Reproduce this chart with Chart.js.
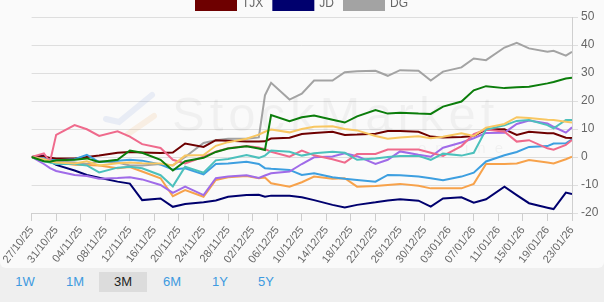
<!DOCTYPE html>
<html>
<head>
<meta charset="utf-8">
<script src="https://cdn.jsdelivr.net/npm/chart.js@4.4.1/dist/chart.umd.min.js"></script>
<style>
  html, body { margin: 0; padding: 0; background: #efefef; }
  body { width: 604px; height: 302px; overflow: hidden; position: relative; font-family: "Liberation Sans", Arial, sans-serif; }
  #panel { position: absolute; left: 0; top: 0; width: 604px; height: 268px; background: #fafafa; border-radius: 0 0 6px 6px; overflow: hidden; }
  #wrap { position: absolute; left: 0; top: -12px; width: 604px; height: 277px; }
  .rng { position: absolute; top: 272px; height: 20px; line-height: 20px; width: 48px; text-align: center; font-size: 13px; color: #3d9ae0; }
  .rng.active { background: #dcdcdc; color: #222; }
</style>
</head>
<body>
<div id="panel">
  <div id="wrap"><canvas id="perfChart"></canvas></div>
</div>
<div class="rng" style="left:1px">1W</div>
<div class="rng" style="left:51px">1M</div>
<div class="rng active" style="left:99px">3M</div>
<div class="rng" style="left:148px">6M</div>
<div class="rng" style="left:196px">1Y</div>
<div class="rng" style="left:242px">5Y</div>

<script>
// trading days shown (sampled), % change since 27/10/25
const tradeDates = ['2025-10-27','2025-10-29','2025-10-30','2025-10-31','2025-11-03','2025-11-05','2025-11-07',
  '2025-11-10','2025-11-12','2025-11-14','2025-11-17','2025-11-19','2025-11-21','2025-11-24','2025-11-26','2025-11-28',
  '2025-12-01','2025-12-03','2025-12-04','2025-12-05','2025-12-08','2025-12-10','2025-12-12','2025-12-15','2025-12-17',
  '2025-12-19','2025-12-22','2025-12-24','2025-12-26','2025-12-29','2025-12-31','2026-01-02','2026-01-05','2026-01-07',
  '2026-01-09','2026-01-12','2026-01-14','2026-01-16','2026-01-19','2026-01-20','2026-01-22','2026-01-23'];

const wmt  = [0, -1.5, -1.7, -1.2, -1, -0.5, -1.8, -1, 2.3, 1.5, -1, -4.8, -1.5, -0.3, 1.8, 3.0, 3.8, 3.0, 2.5, 15, 12.8, 14.2, 14.8, 13.3, 12.3, 14.5, 16.8, 15.5, 15.8, 15.5, 15.4, 18, 19.8, 23.8, 25.3, 24.6, 24.9, 25.1, 26.3, 26.8, 28, 28.3];
const cost = [0, -0.8, -1.5, -2, -2.3, -1.5, -3, -2.2, -2, -2.2, -2.3, -3.0, 0.5, 0.7, 4.0, 5.3, 6.5, 8.0, 9.0, 9.8, 8.8, 10.0, 10.8, 11.0, 10.0, 9.5, 7.5, 6.5, 7.0, 7.4, 6.7, 7.2, 8.5, 7.5, 10.5, 11.8, 14.2, 13.9, 13.3, 13.2, 12.6, 12.3];
const tgt  = [0, -1.5, -2, -2.5, -2.5, -3.0, -5.5, -3.8, -3.5, -4, -6.5, -10.5, -3.5, -5.6, -1.2, -0.7, 0.7, -0.3, 0.5, 2.3, 1.9, 0.5, 1.3, 1.9, 1.5, -1.0, -0.5, 0, 0.4, 0.4, -1.0, 1.2, 0.5, 1.5, 9.8, 11.3, 12.9, 13.2, 11.4, 10.2, 13.2, 13.2];
const rost = [0, 1.3, -1.7, 7.9, 11.4, 9.9, 7.5, 9.2, 7.3, 4.6, 3.2, -1, -2.3, 0.1, 1.9, 3.1, 3.9, 3.4, 2.8, 1.9, 0.1, 2.3, 0.6, -0.8, -2, 1.1, 1.1, 2.7, 2.7, 2.7, 1.5, 0.4, 3.9, 8.2, 9.8, 9.0, 5.5, 6.0, 3.1, 2.6, 4.3, 6.1];
const hd   = [0, -2.5, -4.0, -5.0, -6.4, -6.8, -7.8, -7.5, -7.2, -8.0, -10, -12.8, -10.6, -13.6, -7.6, -7.0, -6.5, -7.5, -6.6, -5.8, -5.2, -2.5, -0.1, 0.2, 1.3, 0.3, -2.5, -1.0, 2.0, 0.8, 0.1, 3.3, 5.2, 6.7, 8.6, 8.7, 11.8, 13.0, 12.0, 10.8, 8.7, 10.6];
const low  = [0, -0.5, -1.0, -1.2, -0.8, 0.8, -1.8, -1.3, -1.0, -1.3, -2.7, -4.5, -4.0, -6.2, -2.5, -2.3, -1.7, -2.5, -4.0, -4.2, -4.6, -6.4, -5.8, -7.2, -7.8, -8.2, -8.8, -6.4, -6.5, -7.0, -7.6, -8.3, -7.0, -5.6, -1.6, 0.6, 1.8, 3.6, 3.9, 4.8, 4.9, 6.3];
const kr   = [0, -1.0, -1.8, -2.0, -2.8, -2.9, -3.0, -4.0, -3.6, -5.2, -7.6, -14, -11.8, -14.2, -8.2, -7.2, -6.8, -7.6, -7.3, -9.4, -10.6, -9.0, -7.0, -7.8, -7.6, -10.6, -10.4, -10.0, -9.6, -10.3, -11.2, -11.2, -11.2, -9.6, -2.5, -2.5, -2.3, -1.1, -2.0, -2.3, -0.8, 0.1];
const tjx  = [0, 0.3, -0.3, -0.5, -0.5, 0, 0.5, 1.5, 1.8, 1.6, 1.4, 1.6, 4.8, 3.6, 6.0, 5.8, 5.5, 5.5, 5.6, 6.6, 6.9, 8.2, 8.6, 9.0, 7.9, 8.0, 8.3, 9.3, 9.3, 9.0, 7.3, 7.0, 7.1, 7.5, 9.8, 9.9, 7.9, 9.0, 8.5, 8.5, 6.9, 6.8];
const jd   = [0, 0.5, -1.5, -2.8, -4.8, -6.4, -7.4, -8.8, -9.5, -15.4, -14.8, -17.8, -16.8, -16.2, -15.5, -14.2, -13.6, -13.5, -14.2, -13.8, -13.8, -14.4, -15.4, -17.1, -18.0, -17.1, -16.2, -15.5, -15.1, -15.6, -17.7, -14.8, -14.4, -16.3, -15.1, -10.6, -13.6, -16.5, -18.1, -18.6, -12.7, -13.2];
const dg   = [0, -1, -1.2, -1.5, -2, -2.5, -1.5, -2, -3, -3, -2.5, -3, 0, 5, 6, 6.5, 6.5, 7, 22, 26.5, 20.5, 22.6, 27.3, 27.3, 30.3, 30.6, 30.8, 29, 31, 30.8, 27.3, 30.5, 32, 35.2, 34.6, 39.1, 40.8, 38.8, 37.6, 37.9, 36.2, 37.6];

const seriesNames  = ['WMT', 'COST', 'TGT', 'ROST', 'HD', 'LOW', 'KR', 'TJX', 'JD', 'DG'];
const seriesValues = [wmt, cost, tgt, rost, hd, low, kr, tjx, jd, dg];
const seriesColors = ['#0b7d0b', '#f8c762', '#4cc0bc', '#ef6a8c', '#a06be8', '#3d9fe0', '#f7a24b', '#6e0000', '#00006e', '#a3a3a3'];
// only the last legend row is in view
const legendShown = ['TJX', 'JD', 'DG'];

const yTicks = { min: -20, max: 50, step: 10 };
const tickEveryDays = 4;
const WRAP_TOP = 12;

const startMs = Date.UTC(2025, 9, 27);
function dayOf(s) {
  return Math.round((Date.parse(s + 'T00:00:00Z') - startMs) / 86400000);
}
function pad(n) { return (n < 10 ? '0' : '') + n; }
function fmtDay(v) {
  const d = new Date(startMs + v * 86400000);
  return pad(d.getUTCDate()) + '/' + pad(d.getUTCMonth() + 1) + '/' + String(d.getUTCFullYear()).slice(2);
}
const lastDay = dayOf(tradeDates[tradeDates.length - 1]);

// legend sits a little closer to the plot than Chart.js puts it
const tightLegend = {
  id: 'tightLegend',
  beforeLayout(chart) {
    const lg = chart.legend;
    if (lg && !lg._tight) {
      const fit = lg.fit.bind(lg);
      lg.fit = function () { fit(); this.height -= 3; };
      lg._tight = true;
    }
  }
};

// faint site watermark behind the lines
const watermark = {
  id: 'watermark',
  beforeDatasetsDraw(chart) {
    const ctx = chart.ctx;
    ctx.save();
    ctx.lineCap = 'round';
    ctx.lineWidth = 6;
    ctx.strokeStyle = 'rgba(90,130,210,0.11)';
    ctx.beginPath();
    ctx.moveTo(152, 95 + WRAP_TOP);
    ctx.lineTo(119, 122 + WRAP_TOP);
    ctx.lineTo(106, 119 + WRAP_TOP);
    ctx.stroke();
    ctx.strokeStyle = 'rgba(240,160,80,0.13)';
    ctx.beginPath();
    ctx.moveTo(154, 116 + WRAP_TOP);
    ctx.lineTo(128, 134 + WRAP_TOP);
    ctx.stroke();
    ctx.fillStyle = 'rgba(0,0,0,0.038)';
    ctx.font = '49px "Liberation Sans", Arial, sans-serif';
    ctx.letterSpacing = '5px';
    ctx.textBaseline = 'alphabetic';
    ctx.fillText('StockMarket', 172, 131 + WRAP_TOP);
    ctx.font = '15px "Liberation Sans", Arial, sans-serif';
    ctx.letterSpacing = '9px';
    ctx.fillText('online', 418, 153 + WRAP_TOP);
    ctx.restore();
  }
};

Chart.defaults.font.family = '"Liberation Sans", Arial, sans-serif';
Chart.defaults.color = '#666';

const datasets = seriesNames.map((name, k) => ({
  label: name,
  data: tradeDates.map((d, i) => ({ x: dayOf(d), y: seriesValues[k][i] })),
  borderColor: seriesColors[k],
  backgroundColor: seriesColors[k],
  borderWidth: 2,
  pointRadius: 0,
  tension: 0,
  fill: false
}));

new Chart(document.getElementById('perfChart'), {
  type: 'line',
  data: { datasets: datasets },
  options: {
    responsive: true,
    maintainAspectRatio: false,
    animation: false,
    plugins: {
      legend: {
        position: 'top',
        labels: { boxWidth: 40, font: { size: 12 }, filter: item => legendShown.includes(item.text) }
      },
      tooltip: { enabled: false }
    },
    scales: {
      x: {
        type: 'linear',
        min: 0,
        max: lastDay,
        grid: { drawOnChartArea: false, tickLength: 8, color: '#cfcfcf' },
        border: { color: '#cfcfcf' },
        ticks: { stepSize: tickEveryDays, autoSkip: false, minRotation: 52, maxRotation: 52, font: { size: 11 }, callback: v => fmtDay(v) },
        afterFit: s => { s.height = 52; s.paddingLeft = 31.6; }
      },
      y: {
        position: 'right',
        min: yTicks.min,
        max: yTicks.max,
        grid: { tickLength: 6, color: '#dedede' },
        border: { color: '#cfcfcf' },
        ticks: { stepSize: yTicks.step, padding: 3, font: { size: 12 } },
        afterFit: s => { s.width = 32; }
      }
    }
  },
  plugins: [tightLegend, watermark]
});
</script>
</body>
</html>
